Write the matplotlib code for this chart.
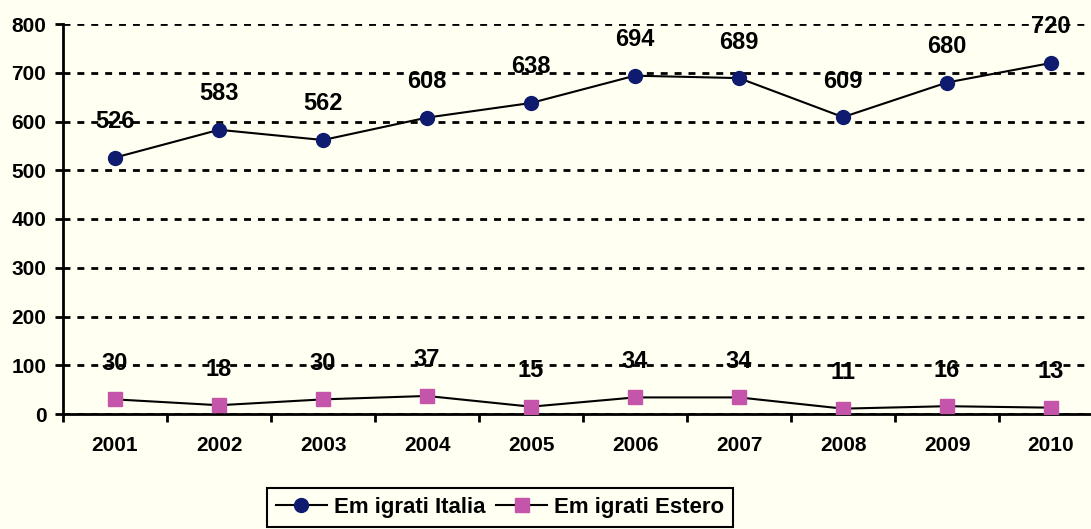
import matplotlib
matplotlib.use("Agg")
import matplotlib.pyplot as plt
import numpy as np

anni = ["2001", "2002", "2003", "2004", "2005", "2006", "2007", "2008", "2009", "2010"]
italia = [526, 583, 562, 608, 638, 694, 689, 609, 680, 720]
estero = [30, 18, 30, 37, 15, 34, 34, 11, 16, 13]

bg = "#FFFFF2"
plt.rcParams["font.family"] = ["Liberation Sans", "DejaVu Sans"]
plt.rcParams["font.weight"] = "bold"

fig = plt.figure(figsize=(10.91, 5.29), dpi=100, facecolor=bg)
ax = fig.add_axes([63 / 1091, 115 / 529, 1040 / 1091, 390 / 529], facecolor=bg)

x = np.arange(len(anni))
ax.plot(x, italia, color="black", lw=1.5, marker="o", ms=10,
        mfc="#0F1B6E", mec="#0F1B6E", label="Em igrati Italia", zorder=3)
ax.plot(x, estero, color="black", lw=1.5, marker="s", ms=10,
        mfc="#C455AA", mec="#C455AA", label="Em igrati Estero", zorder=3)

for xi, v in zip(x, italia):
    ax.annotate(str(v), (xi, v), xytext=(0, 26), textcoords="offset points",
                ha="center", va="center", fontsize=17, fontweight="bold", zorder=4)
for xi, v in zip(x, estero):
    ax.annotate(str(v), (xi, v), xytext=(0, 26), textcoords="offset points",
                ha="center", va="center", fontsize=17, fontweight="bold", zorder=4)

ax.set_xlim(-0.5, 9.5)
ax.set_ylim(0, 800)
ax.set_yticks(range(0, 801, 100))
ax.set_xticks(x)
ax.set_xticklabels(anni)
ax.set_xticks(np.arange(-0.5, 10, 1), minor=True)
ax.tick_params(axis="x", which="major", length=0, pad=16, labelsize=15)
ax.tick_params(axis="x", which="minor", length=6, width=2, direction="out")
ax.tick_params(axis="y", length=6, width=2, pad=6, labelsize=15)
for lbl in ax.get_xticklabels() + ax.get_yticklabels():
    lbl.set_fontweight("bold")

ax.yaxis.grid(True, color="black", lw=2, ls=(0, (2.5, 2.5)))
ax.set_axisbelow(True)
for s in ["top", "right"]:
    ax.spines[s].set_visible(False)
for s in ["left", "bottom"]:
    ax.spines[s].set_linewidth(2)

leg = fig.legend(loc="upper center", bbox_to_anchor=(500 / 1091, 1 - 488 / 529),
                 ncol=2, frameon=True, fancybox=False, edgecolor="black",
                 facecolor=bg, framealpha=1, fontsize=16, handlelength=2.3,
                 columnspacing=0.5, handletextpad=0.3, borderpad=0.4,
                 borderaxespad=0)
leg.get_frame().set_linewidth(1.5)
for t in leg.get_texts():
    t.set_fontweight("bold")

fig.savefig("out.png", dpi=100, facecolor=bg)
